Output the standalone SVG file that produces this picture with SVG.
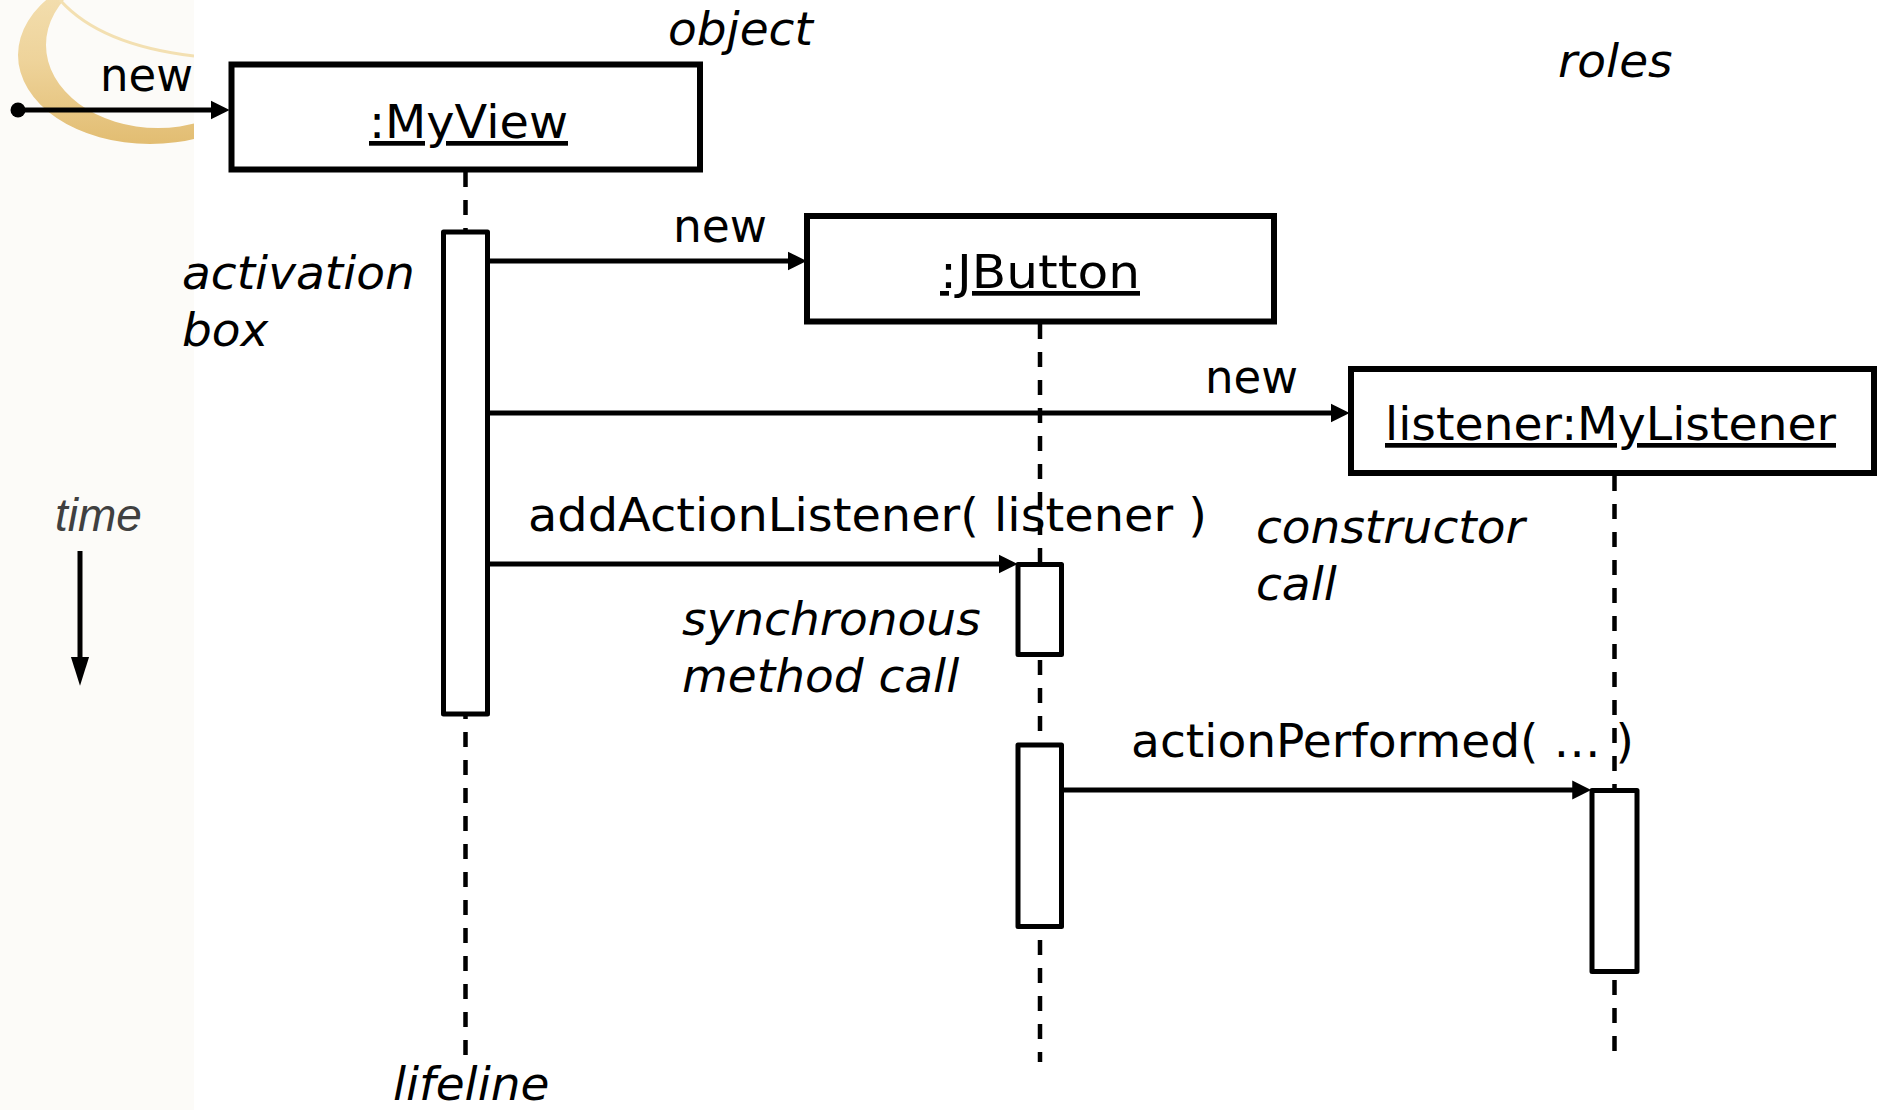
<svg xmlns="http://www.w3.org/2000/svg" width="1877" height="1110" viewBox="0 0 1877 1110">
<defs>
<style>
.box{fill:#fff;stroke:#000;stroke-width:6}
.act{fill:#fff;stroke:#000;stroke-width:5;stroke-linejoin:round}
.life{stroke:#000;stroke-width:4.5;stroke-dasharray:15 13;fill:none}
.msg{stroke:#000;stroke-width:5;fill:none}
.lbl{font-family:"DejaVu Sans","Liberation Sans",sans-serif;font-size:47px;fill:#000}
.obj{text-decoration:underline}
.note{font-family:"DejaVu Sans","Liberation Sans",sans-serif;font-size:47px;font-style:italic;fill:#000}
.time{font-family:"Liberation Sans",Arial,sans-serif;font-size:46px;font-style:italic;fill:#404040}
</style>
<marker id="ah" markerUnits="userSpaceOnUse" markerWidth="20" markerHeight="20" viewBox="0 -9 18 18" refX="2" refY="0" orient="auto"><path d="M0,-8.5 L17,0 L0,8.5 z" fill="#000"/></marker>
<marker id="ahT" markerUnits="userSpaceOnUse" markerWidth="30" markerHeight="20" viewBox="0 -9 28 18" refX="2" refY="0" orient="auto"><path d="M0,-8.5 L27,0 L0,8.5 z" fill="#000"/></marker>
<linearGradient id="gold" x1="0" y1="0" x2="0" y2="1">
<stop offset="0" stop-color="#f5e3b8"/>
<stop offset="0.55" stop-color="#eed39a"/>
<stop offset="1" stop-color="#e2bd72"/>
</linearGradient>
<clipPath id="strip"><rect x="0" y="0" width="194" height="1110"/></clipPath>
</defs>

<g id="background">
<rect x="0" y="0" width="1877" height="1110" fill="#fff"/>
<rect x="0" y="0" width="194" height="1110" fill="#fcfbf8"/>
<g clip-path="url(#strip)">
<path d="M18,55 A132,89 0 1,0 282,55 A132,89 0 1,0 18,55 Z M46,45 A112,83 0 1,0 270,45 A112,83 0 1,0 46,45 Z" fill="url(#gold)" fill-rule="evenodd"/>
<path d="M60,0 Q100,45 194,56" fill="none" stroke="#f3e0b2" stroke-width="3"/>
</g>
</g>

<g id="node-myview">
<line class="life" x1="465.5" y1="172" x2="465.5" y2="1057"/>
<rect class="box" x="231.5" y="64.5" width="468.5" height="105"/>
<text class="lbl obj" x="369" y="138" textLength="199" lengthAdjust="spacingAndGlyphs">:MyView</text>
<rect class="act" x="443.5" y="232" width="44" height="482"/>
</g>

<g id="node-jbutton">
<line class="life" x1="1040" y1="324" x2="1040" y2="1062"/>
<rect class="box" x="807" y="216" width="467" height="105.5"/>
<text class="lbl obj" x="940" y="288" textLength="200" lengthAdjust="spacingAndGlyphs">:JButton</text>
<rect class="act" x="1018" y="564.5" width="43.5" height="90"/>
<rect class="act" x="1018" y="745" width="43.5" height="181.5"/>
</g>

<g id="node-listener">
<line class="life" x1="1614.5" y1="476" x2="1614.5" y2="1063"/>
<rect class="box" x="1351" y="369" width="523" height="104"/>
<text class="lbl obj" x="1385" y="440" textLength="451" lengthAdjust="spacingAndGlyphs">listener:MyListener</text>
<rect class="act" x="1592" y="790.5" width="45" height="181"/>
</g>

<g id="connectors">
<circle cx="18" cy="110" r="7.5" fill="#000"/>
<path class="msg" d="M18,110 H213" marker-end="url(#ah)"/>
<text class="lbl" x="100" y="91" textLength="93" lengthAdjust="spacingAndGlyphs">new</text>
<path class="msg" d="M488,261 H790" marker-end="url(#ah)"/>
<text class="lbl" x="673" y="242" textLength="94" lengthAdjust="spacingAndGlyphs">new</text>
<path class="msg" d="M488,413 H1333" marker-end="url(#ah)"/>
<text class="lbl" x="1205" y="393" textLength="93" lengthAdjust="spacingAndGlyphs">new</text>
<path class="msg" d="M488,564 H1001" marker-end="url(#ah)"/>
<text class="lbl" x="528" y="531" textLength="679" lengthAdjust="spacingAndGlyphs">addActionListener( listener )</text>
<path class="msg" d="M1062,790 H1574.5" marker-end="url(#ah)"/>
<text class="lbl" x="1131" y="757" textLength="503" lengthAdjust="spacingAndGlyphs">actionPerformed( … )</text>
</g>

<g id="annotations">
<text class="note" x="668" y="45">object</text>
<text class="note" x="1558" y="77">roles</text>
<text class="note" x="182" y="289">activation</text>
<text class="note" x="182" y="346">box</text>
<text class="note" x="1256" y="543">constructor</text>
<text class="note" x="1256" y="600">call</text>
<text class="note" x="682" y="635">synchronous</text>
<text class="note" x="682" y="692">method call</text>
<text class="note" x="393" y="1100">lifeline</text>
<text class="time" x="55" y="531">time</text>
<path class="msg" d="M80,551 V659" stroke-width="5.5" marker-end="url(#ahT)"/>
</g>
</svg>
